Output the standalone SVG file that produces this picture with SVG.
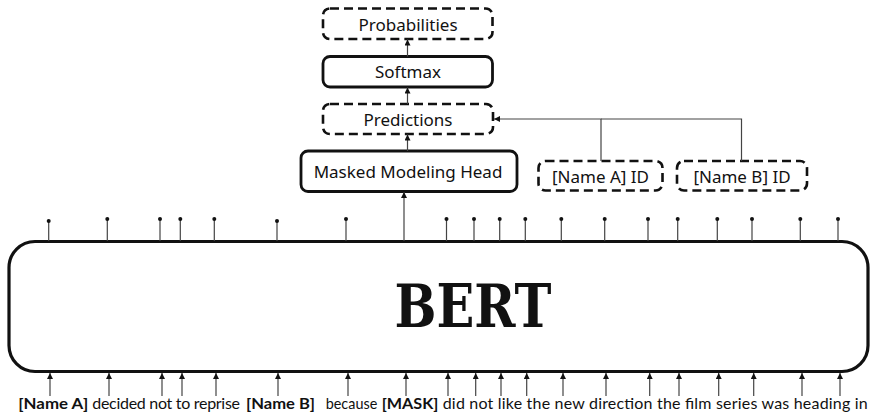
<svg xmlns="http://www.w3.org/2000/svg" width="875" height="418" viewBox="0 0 875 418">
  <style>
    .lbl { font-family: "Noto Sans", "Liberation Sans", sans-serif; font-size: 17px; fill: #111; text-anchor: middle; }
    .solid { fill: #fff; stroke: #111; stroke-width: 2.8; }
    .dash { fill: #fff; stroke: #111; stroke-width: 2.6; stroke-dasharray: 9 5; }
    .wire { fill: none; stroke: #444; stroke-width: 1.2; }
    .pin { fill: #111; }
    .bert { font-family: "DejaVu Serif", "Liberation Serif", serif; font-weight: bold; font-size: 60px; fill: #111; text-anchor: middle; }
    .sent { font-family: Lato, "Noto Sans", "Liberation Sans", sans-serif; font-size: 16px; fill: #111; }
    .b { font-weight: bold; }
  </style>
  <defs>
    <marker id="arr" viewBox="0 0 6 6" refX="6" refY="3" markerWidth="6" markerHeight="6" markerUnits="userSpaceOnUse" orient="auto">
      <path d="M0,0 L6,3 L0,6 z" fill="#111"/>
    </marker>
  </defs>

  <!-- encoder block -->
  <g id="bert">
    <rect x="9" y="241.5" width="859" height="130" rx="26" fill="#fff" stroke="#111" stroke-width="3.2"/>
    <text class="bert" x="473" y="327" textLength="157" lengthAdjust="spacingAndGlyphs">BERT</text>
  </g>

  <g id="masked-head">
    <rect class="solid" x="301" y="151" width="216" height="40.5" rx="7"/>
    <text class="lbl" x="408" y="177.5">Masked Modeling Head</text>
  </g>
  <g id="predictions">
    <rect class="dash" x="323" y="104" width="170" height="30" rx="7"/>
    <text class="lbl" x="408" y="125.5">Predictions</text>
  </g>
  <g id="softmax">
    <rect class="solid" x="323" y="56.5" width="169.5" height="30.5" rx="7"/>
    <text class="lbl" x="408" y="78">Softmax</text>
  </g>
  <g id="probabilities">
    <rect class="dash" x="323" y="8.5" width="169.5" height="30.5" rx="7"/>
    <text class="lbl" x="408" y="30.5">Probabilities</text>
  </g>
  <g id="name-a-id">
    <rect class="dash" x="538.5" y="161" width="124" height="29.5" rx="7"/>
    <text class="lbl" x="600.5" y="182.5">[Name A] ID</text>
  </g>
  <g id="name-b-id">
    <rect class="dash" x="677" y="161" width="130" height="29.5" rx="7"/>
    <text class="lbl" x="742" y="182.5">[Name B] ID</text>
  </g>

  <g id="connectors">
    <!-- head stack -->
    <line class="wire" x1="404" y1="241" x2="404" y2="192" marker-end="url(#arr)"/>
    <line class="wire" x1="407.5" y1="151" x2="407.5" y2="134.5" marker-end="url(#arr)"/>
    <line class="wire" x1="407.5" y1="104" x2="407.5" y2="87.5" marker-end="url(#arr)"/>
    <line class="wire" x1="407.5" y1="56.5" x2="407.5" y2="39.5" marker-end="url(#arr)"/>
    <!-- entity ids into predictions -->
    <polyline class="wire" points="601,161 601,119 494,119" marker-end="url(#arr)"/>
    <polyline class="wire" points="741.5,161 741.5,119 601,119"/>

    <!-- output pins above the encoder -->
    <g class="outs">
      <line class="wire" x1="48.7" y1="241" x2="48.7" y2="221"/><circle class="pin" cx="48.7" cy="221" r="2"/>
      <line class="wire" x1="107.3" y1="241" x2="107.3" y2="219"/><circle class="pin" cx="107.3" cy="219" r="2"/>
      <line class="wire" x1="160" y1="241" x2="160" y2="219"/><circle class="pin" cx="160" cy="219" r="2"/>
      <line class="wire" x1="180.3" y1="241" x2="180.3" y2="219"/><circle class="pin" cx="180.3" cy="219" r="2"/>
      <line class="wire" x1="214.3" y1="241" x2="214.3" y2="219"/><circle class="pin" cx="214.3" cy="219" r="2"/>
      <line class="wire" x1="277" y1="241" x2="277" y2="221"/><circle class="pin" cx="277" cy="221" r="2"/>
      <line class="wire" x1="346" y1="241" x2="346" y2="219"/><circle class="pin" cx="346" cy="219" r="2"/>
      <line class="wire" x1="446.5" y1="241" x2="446.5" y2="219"/><circle class="pin" cx="446.5" cy="219" r="2"/>
      <line class="wire" x1="474" y1="241" x2="474" y2="219"/><circle class="pin" cx="474" cy="219" r="2"/>
      <line class="wire" x1="499.7" y1="241" x2="499.7" y2="219"/><circle class="pin" cx="499.7" cy="219" r="2"/>
      <line class="wire" x1="525.3" y1="241" x2="525.3" y2="219"/><circle class="pin" cx="525.3" cy="219" r="2"/>
      <line class="wire" x1="561.3" y1="241" x2="561.3" y2="219"/><circle class="pin" cx="561.3" cy="219" r="2"/>
      <line class="wire" x1="604.7" y1="241" x2="604.7" y2="219"/><circle class="pin" cx="604.7" cy="219" r="2"/>
      <line class="wire" x1="648" y1="241" x2="648" y2="219"/><circle class="pin" cx="648" cy="219" r="2"/>
      <line class="wire" x1="677.7" y1="241" x2="677.7" y2="219"/><circle class="pin" cx="677.7" cy="219" r="2"/>
      <line class="wire" x1="717.3" y1="241" x2="717.3" y2="219"/><circle class="pin" cx="717.3" cy="219" r="2"/>
      <line class="wire" x1="752" y1="241" x2="752" y2="219"/><circle class="pin" cx="752" cy="219" r="2"/>
      <line class="wire" x1="800.3" y1="241" x2="800.3" y2="219"/><circle class="pin" cx="800.3" cy="219" r="2"/>
      <line class="wire" x1="838" y1="241" x2="838" y2="219"/><circle class="pin" cx="838" cy="219" r="2"/>
    </g>

    <!-- token inputs below the encoder -->
    <g class="ins">
      <line class="wire" x1="50" y1="396" x2="50" y2="373" marker-end="url(#arr)"/>
      <line class="wire" x1="109" y1="396" x2="109" y2="373" marker-end="url(#arr)"/>
      <line class="wire" x1="162" y1="396" x2="162" y2="373" marker-end="url(#arr)"/>
      <line class="wire" x1="182" y1="396" x2="182" y2="373" marker-end="url(#arr)"/>
      <line class="wire" x1="216" y1="396" x2="216" y2="373" marker-end="url(#arr)"/>
      <line class="wire" x1="278" y1="396" x2="278" y2="373" marker-end="url(#arr)"/>
      <line class="wire" x1="348" y1="396" x2="348" y2="373" marker-end="url(#arr)"/>
      <line class="wire" x1="406" y1="396" x2="406" y2="373" marker-end="url(#arr)"/>
      <line class="wire" x1="448" y1="396" x2="448" y2="373" marker-end="url(#arr)"/>
      <line class="wire" x1="475.7" y1="396" x2="475.7" y2="373" marker-end="url(#arr)"/>
      <line class="wire" x1="501" y1="396" x2="501" y2="373" marker-end="url(#arr)"/>
      <line class="wire" x1="526.7" y1="396" x2="526.7" y2="373" marker-end="url(#arr)"/>
      <line class="wire" x1="563" y1="396" x2="563" y2="373" marker-end="url(#arr)"/>
      <line class="wire" x1="606" y1="396" x2="606" y2="373" marker-end="url(#arr)"/>
      <line class="wire" x1="649.7" y1="396" x2="649.7" y2="373" marker-end="url(#arr)"/>
      <line class="wire" x1="679" y1="396" x2="679" y2="373" marker-end="url(#arr)"/>
      <line class="wire" x1="718.7" y1="396" x2="718.7" y2="373" marker-end="url(#arr)"/>
      <line class="wire" x1="753.7" y1="396" x2="753.7" y2="373" marker-end="url(#arr)"/>
      <line class="wire" x1="802" y1="396" x2="802" y2="373" marker-end="url(#arr)"/>
      <line class="wire" x1="840" y1="396" x2="840" y2="373" marker-end="url(#arr)"/>
    </g>
  </g>

  <!-- input sentence, one run per style change -->
  <g id="sentence">
    <text class="sent b" x="18.3" y="409" textLength="70" lengthAdjust="spacingAndGlyphs">[Name A]</text>
    <text class="sent" x="92.3" y="409" textLength="147.7" lengthAdjust="spacing">decided not to reprise</text>
    <text class="sent b" x="246" y="409" textLength="69" lengthAdjust="spacingAndGlyphs">[Name B]</text>
    <text class="sent" x="325.7" y="409" textLength="51.6" lengthAdjust="spacingAndGlyphs">because</text>
    <text class="sent b" x="381.7" y="409" textLength="56.6" lengthAdjust="spacingAndGlyphs">[MASK]</text>
    <text class="sent" x="442.7" y="409" textLength="425" lengthAdjust="spacing">did not like the new direction the film series was heading in</text>
  </g>
</svg>
